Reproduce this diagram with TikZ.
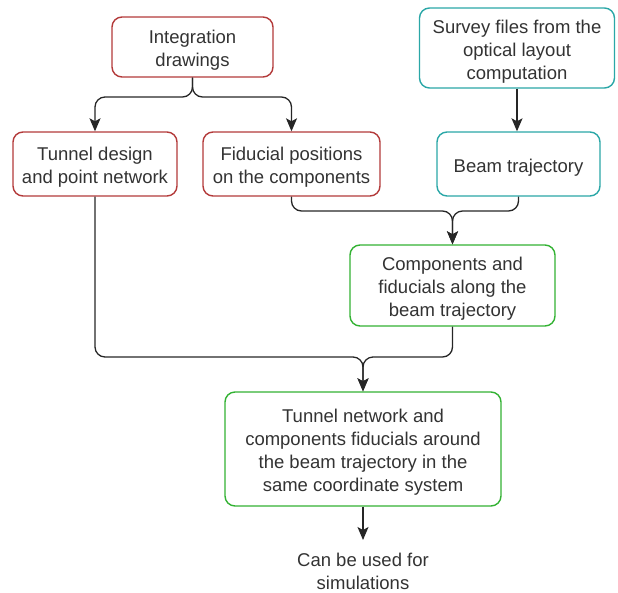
\documentclass[tikz,border=0pt]{standalone}
\usepackage{fontspec}
\setmainfont{Liberation Sans}
\usetikzlibrary{arrows.meta}
\definecolor{bred}{HTML}{B33A3A}
\definecolor{bteal}{HTML}{2AA7A7}
\definecolor{bgreen}{HTML}{33B233}
\definecolor{txt}{HTML}{333333}
\tikzset{
  lbl/.style={align=center, text=txt, font=\fontsize{18.5}{23}\selectfont, inner sep=0pt, yshift=-3.5pt},
  box/.style={draw, line width=1.4pt, rounded corners=10pt, fill=white, inner sep=0pt},
  redbox/.style={box, draw=bred},
  tealbox/.style={box, draw=bteal},
  greenbox/.style={box, draw=bgreen},
  conn/.style={draw=black!85, line width=1.3pt, rounded corners=10pt, -{Stealth[width=11pt,length=13pt,inset=3pt]}},
}
\begin{document}
\begin{tikzpicture}[x=1pt,y=-1pt]
\useasboundingbox (0,0) rectangle (618,592);
\node[redbox, minimum width=161pt, minimum height=60pt, label={[lbl]center:Integration\\drawings}] (int) at (192.5,47) {};
\node[tealbox, minimum width=195pt, minimum height=80pt, label={[lbl]center:Survey files from the\\optical layout\\computation}] (survey) at (517,48) {};
\node[redbox, minimum width=164pt, minimum height=64pt, label={[lbl]center:Tunnel design\\and point network}] (tunnel) at (95,164) {};
\node[redbox, minimum width=177pt, minimum height=64pt, label={[lbl]center:Fiducial positions\\on the components}] (fid) at (291.5,164) {};
\node[tealbox, minimum width=163pt, minimum height=64pt, label={[lbl]center:Beam trajectory}] (beam) at (518.5,164) {};
\node[greenbox, minimum width=205pt, minimum height=81pt, label={[lbl]center:Components and\\fiducials along the\\beam trajectory}] (comp) at (452.5,285.5) {};
\node[greenbox, minimum width=276pt, minimum height=114pt, label={[lbl]center:Tunnel network and\\components fiducials around\\the beam trajectory in the\\same coordinate system}] (net) at (363,449) {};
\node[lbl] (sim) at (363,567.5) {Can be used for\\simulations};
\coordinate (simtop) at (363,540);

\draw[conn] (int.south) -- (192.5,97) -| (tunnel.north);
\draw[conn] (int.south) -- (192.5,97) -| (fid.north);
\draw[conn] (survey.south) -- (beam.north -| survey.south);
\draw[conn] (fid.south) -- (291.5,211) -| (comp.north);
\draw[conn] (beam.south) -- (518.5,211) -| (comp.north);
\draw[conn] (tunnel.south) -- (95,357) -| (net.north);
\draw[conn] (comp.south) -- (452.5,357) -| (net.north);
\draw[conn] (net.south) -- (simtop);
\end{tikzpicture}
\end{document}
